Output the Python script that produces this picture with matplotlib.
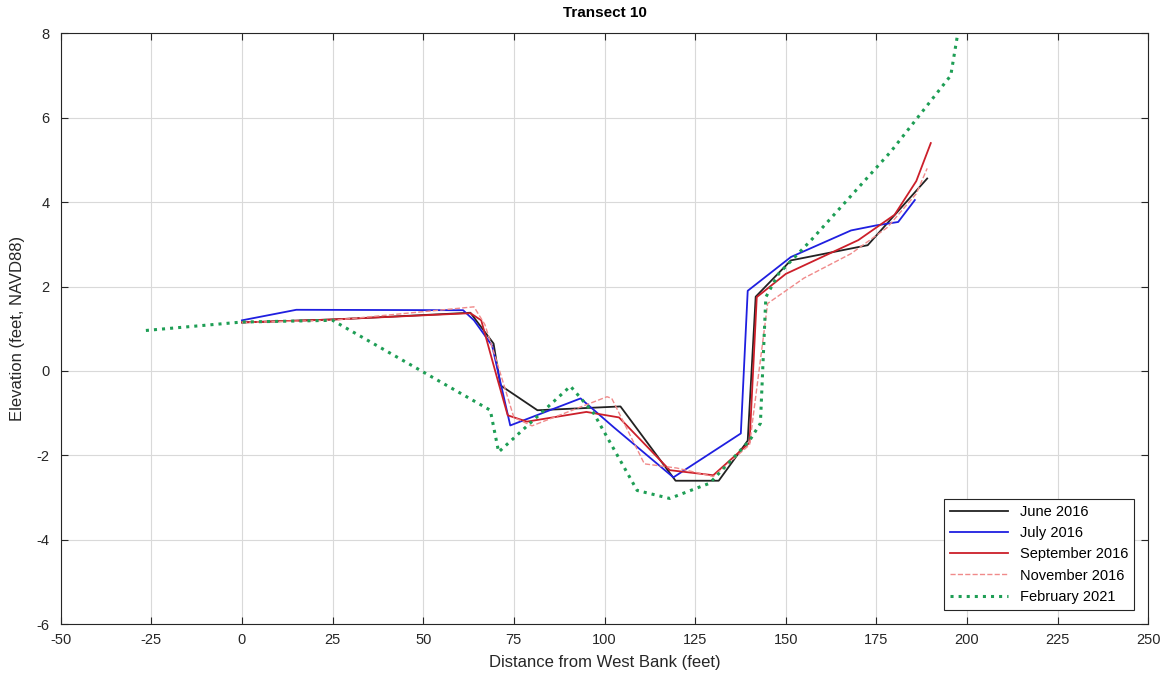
import numpy as np
import matplotlib
matplotlib.use("Agg")
import matplotlib.pyplot as plt

# Transect 10 survey profiles (distance from west bank, elevation)
jun16_x = [0, 25, 63, 69.4, 71.3, 81.5, 104.4, 119.6, 131.5, 139.5, 141.7, 151.4, 172.6, 189]
jun16_y = [1.15, 1.22, 1.38, 0.65, -0.34, -0.93, -0.84, -2.6, -2.6, -1.65, 1.76, 2.62, 2.98, 4.56]

jul16_x = [0, 15, 61, 64, 69, 74, 93.4, 102.5, 119, 137.6, 139.5, 151.4, 168, 175, 181, 185.6]
jul16_y = [1.2, 1.45, 1.44, 1.2, 0.6, -1.29, -0.65, -1.33, -2.52, -1.48, 1.9, 2.7, 3.33, 3.45, 3.53, 4.05]

sep16_x = [0, 25, 63, 66, 70.3, 73.3, 78.6, 95, 104, 118, 130, 140, 142, 150, 170, 180, 186, 190]
sep16_y = [1.15, 1.22, 1.37, 1.2, -0.14, -1.05, -1.2, -0.97, -1.1, -2.35, -2.47, -1.7, 1.75, 2.3, 3.1, 3.7, 4.5, 5.4]

nov16_x = [0, 25, 64, 67, 70, 75, 80, 100.7, 102, 111, 120, 130, 140, 145, 155, 168, 178, 186, 189]
nov16_y = [1.15, 1.2, 1.52, 1.1, 0.3, -1.1, -1.3, -0.61, -0.65, -2.2, -2.3, -2.5, -1.75, 1.6, 2.2, 2.78, 3.4, 4.2, 4.8]

feb21_x = [-26.5, 0, 25, 68.5, 70.8, 90.6, 97, 109, 118, 126.5, 129, 140, 143, 144.5, 148, 157, 179, 195.5, 199]
feb21_y = [0.96, 1.16, 1.2, -0.93, -1.92, -0.36, -1.0, -2.83, -3.02, -2.74, -2.66, -1.65, -1.24, 1.75, 2.3, 3.1, 5.2, 7.0, 8.8]

plt.rcParams['font.family'] = ['Liberation Sans', 'DejaVu Sans']
plt.rcParams['axes.unicode_minus'] = False

fig = plt.figure(figsize=(11.67, 6.8), dpi=100)
ax = fig.add_axes([0.052, 0.082, 0.932, 0.869])

ax.plot(jun16_x, jun16_y, color='#222222', lw=1.3, label='June 2016')
ax.plot(jul16_x, jul16_y, color='#1f1fe0', lw=1.3, label='July 2016')
ax.plot(sep16_x, sep16_y, color='#cc1f2a', lw=1.3, label='September 2016')
ax.plot(nov16_x, nov16_y, color='#f08a8a', lw=1.0, ls='--', label='November 2016')
ax.plot(feb21_x, feb21_y, color='#1e9e55', lw=2.2, ls=':', label='February 2021')

ax.set_xlim(-50, 250)
ax.set_ylim(-6, 8)
ax.set_xticks(np.arange(-50, 251, 25))
ax.set_yticks(np.arange(-6, 9, 2))
ax.tick_params(direction='in', top=True, right=True, labelsize=10.5, colors='#262626', length=5)
ax.tick_params(axis='x', pad=6)
ax.tick_params(axis='y', pad=8)
ax.grid(True, color='#d9d9d9', lw=0.8)
for s in ax.spines.values():
    s.set_color('#262626')
    s.set_linewidth(0.8)

ax.set_title('Transect 10', fontsize=11, fontweight='bold', pad=12)
ax.set_xlabel('Distance from West Bank (feet)', fontsize=12, color='#262626', labelpad=6)
ax.set_ylabel('Elevation (feet, NAVD88)', fontsize=12, color='#262626', labelpad=8)

leg = ax.legend(loc='lower right', fontsize=10.5, fancybox=False, framealpha=1,
                edgecolor='#262626', borderaxespad=1.0, handlelength=4.0)
leg.get_frame().set_linewidth(0.8)

fig.savefig('out.png', dpi=100)
